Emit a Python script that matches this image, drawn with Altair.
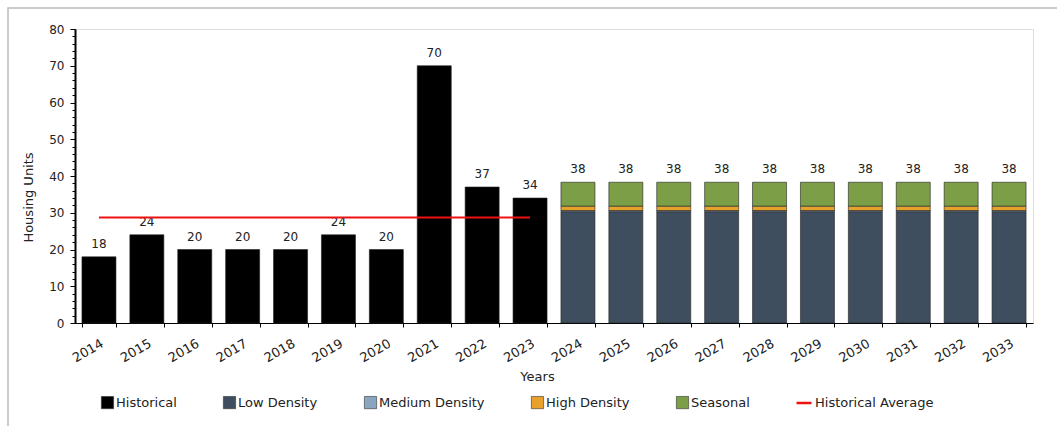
import altair as alt
import pandas as pd

years = [str(y) for y in range(2014, 2034)]
hist_years = years[:10]
proj_years = years[10:]
historical = [18, 24, 20, 20, 20, 24, 20, 70, 37, 34]
low_density = [30.3] * 10
medium_density = [0.3] * 10
high_density = [1.2] * 10
seasonal = [6.5] * 10
proj_labels = ["38"] * 10
hist_avg = 28.7
bar_series = ["Historical", "Low Density", "Medium Density", "High Density", "Seasonal"]
bar_colors = ["#000000", "#3e4e5e", "#8aa5c0", "#e8a22c", "#7b9e47"]
line_series = ["Historical Average"]
line_colors = ["#ee1111"]
major_ticks = [0, 10, 20, 30, 40, 50, 60, 70, 80]
minor_ticks = list(range(0, 81, 2))

rows = []
for y, v in zip(hist_years, historical):
    rows.append({"year": y, "series": "Historical", "value": v, "ord": 0})
for i, y in enumerate(proj_years):
    rows.append({"year": y, "series": "Low Density", "value": low_density[i], "ord": 1})
    rows.append({"year": y, "series": "Medium Density", "value": medium_density[i], "ord": 2})
    rows.append({"year": y, "series": "High Density", "value": high_density[i], "ord": 3})
    rows.append({"year": y, "series": "Seasonal", "value": seasonal[i], "ord": 4})
df = pd.DataFrame(rows)

tot_rows = []
for y, v in zip(hist_years, historical):
    tot_rows.append({"year": y, "total": v, "label": str(v)})
for i, y in enumerate(proj_years):
    t = low_density[i] + medium_density[i] + high_density[i] + seasonal[i]
    tot_rows.append({"year": y, "total": t, "label": proj_labels[i]})
tot = pd.DataFrame(tot_rows)

avg_df = pd.DataFrame({"year": [hist_years[0], hist_years[-1]],
                       "value": [hist_avg, hist_avg],
                       "series": line_series * 2})

FONT = "DejaVu Sans"
xscale = alt.Scale(domain=years, paddingInner=0.29, paddingOuter=0.145)
yscale = alt.Scale(domain=[0, 80], nice=False)

x_axis = alt.Axis(title="Years", labelAngle=-30, labelAlign="right", labelBaseline="top",
                  tickBand="extent", tickSize=4, tickColor="#000", domainColor="#000",
                  labelFont=FONT, labelFontSize=13, labelColor="#222", labelPadding=10,
                  titleFont=FONT, titleFontSize=13, titleFontWeight="normal", titleColor="#222",
                  titleX=462, titleY=53, titleBaseline="middle", grid=False)

y_axis = alt.Axis(title="Housing Units", values=major_ticks, orient="left",
                  tickSize=5, labelOverlap=False, grid=False, domainColor="#000", domainWidth=2,
                  tickColor="#000", labelFont=FONT, labelFontSize=12, labelColor="#222",
                  labelPadding=6, titleFont=FONT, titleFontSize=13, titleFontWeight="normal",
                  titleColor="#222", titleX=-40, titleY=168)

y_minor = alt.Axis(title=None, values=minor_ticks, orient="left", labels=False, domain=False,
                   tickSize=3, tickColor="#000", grid=False)

bar_legend = alt.Legend(title=None, orient="none", legendX=26, legendY=367, direction="horizontal",
                        columns=5, columnPadding=45, labelFont=FONT, labelFontSize=13,
                        labelColor="#222", labelOffset=2, symbolType="square", symbolSize=150,
                        symbolStrokeColor="#333", symbolStrokeWidth=0.6)

line_legend = alt.Legend(title=None, orient="none", legendX=720, legendY=365, direction="horizontal",
                         labelFont=FONT, labelFontSize=13, labelColor="#222", labelOffset=2,
                         symbolType="stroke", symbolSize=225, symbolStrokeWidth=2.5)

bars = alt.Chart(df).mark_bar(stroke="#222", strokeWidth=0.6).encode(
    x=alt.X("year:N", scale=xscale, axis=x_axis, sort=years),
    y=alt.Y("value:Q", scale=yscale, axis=y_axis, stack="zero"),
    color=alt.Color("series:N", scale=alt.Scale(domain=bar_series, range=bar_colors), legend=bar_legend),
    order=alt.Order("ord:Q"),
)

minor = alt.Chart(tot).mark_point(opacity=0).encode(
    x=alt.X("year:N", scale=xscale, sort=years),
    y=alt.Y("total:Q", scale=yscale, axis=y_minor),
)

labels = alt.Chart(tot).mark_text(baseline="bottom", dy=-6, font=FONT, fontSize=12, color="#222").encode(
    x=alt.X("year:N", scale=xscale, sort=years),
    y=alt.Y("total:Q", scale=yscale, axis=None),
    text="label:N",
)

avg_line = alt.Chart(avg_df).mark_line(strokeWidth=2).encode(
    x=alt.X("year:N", scale=xscale, sort=years),
    y=alt.Y("value:Q", scale=yscale, axis=None),
    stroke=alt.Stroke("series:N", scale=alt.Scale(domain=line_series, range=line_colors), legend=line_legend),
)

frame = alt.Chart(pd.DataFrame({"a": [0]})).mark_rect(fill=None, stroke="#bbbbbb", strokeWidth=1.5, clip=False).encode(
    x=alt.value(-67), y=alt.value(-21), x2=alt.value(990), y2=alt.value(410),
)

chart = alt.layer(frame, minor, bars, labels, avg_line).resolve_scale(color="independent").resolve_axis(y="independent").properties(
    width=958, height=294,
    autosize=alt.AutoSizeParams(type="none"),
    padding={"left": 75, "top": 29, "right": 24, "bottom": 103},
).configure_view(stroke="#999999", strokeWidth=1).configure(background="white")

chart.save("out.html", embed_options={"renderer": "svg", "actions": False})
